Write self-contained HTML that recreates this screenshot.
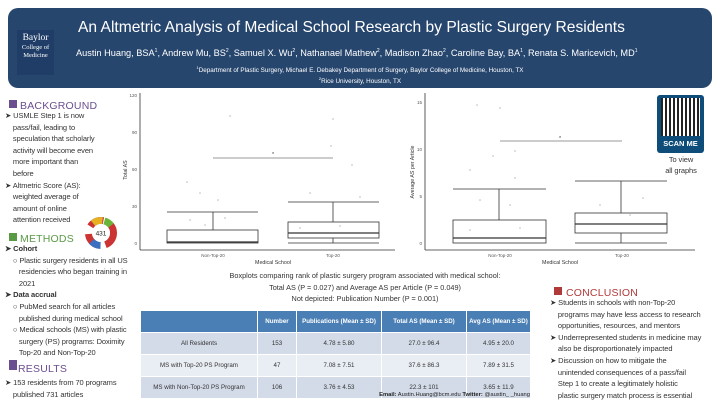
<!DOCTYPE html>
<html><head><meta charset="utf-8"><style>
body{margin:0;width:720px;height:405px;background:#fff;font-family:"Liberation Sans",sans-serif;position:relative;overflow:hidden;color:#222}
.a{position:absolute;white-space:nowrap}
.hdr{position:absolute;left:8px;top:8px;width:704px;height:80px;background:#27466e;border-radius:10px;color:#fff}
.t{font-size:7.5px;line-height:11.6px;color:#333;letter-spacing:-0.1px}
.h{font-size:10.5px;letter-spacing:.2px}
table{border-collapse:separate;border-spacing:1px;font-size:6.2px;color:#333}
td{text-align:center;height:19px}
th{background:#4a7fb5;color:#fff;height:19px;font-weight:bold}
</style></head><body>
<div class="hdr">
 <div class="a" style="left:9px;top:22px;width:37px;height:42px;background:#1f3d66;font-family:'Liberation Serif',serif;text-align:center;line-height:8px;font-size:6.5px;padding-top:3px"><span style="font-size:9.5px;line-height:11px">Baylor</span><br>College of<br>Medicine</div>
 <div class="a" style="left:70px;top:11px;font-size:15.6px">An Altmetric Analysis of Medical School Research by Plastic Surgery Residents</div>
 <div class="a" style="left:68px;top:40px;font-size:9.2px">Austin Huang, BSA<sup style="font-size:5px">1</sup>, Andrew Mu, BS<sup style="font-size:5px">2</sup>, Samuel X. Wu<sup style="font-size:5px">2</sup>, Nathanael Mathew<sup style="font-size:5px">2</sup>, Madison Zhao<sup style="font-size:5px">2</sup>, Caroline Bay, BA<sup style="font-size:5px">1</sup>, Renata S. Maricevich, MD<sup style="font-size:5px">1</sup></div>
 <div class="a" style="left:0;width:704px;text-align:center;top:57px;font-size:6.3px"><sup style="font-size:4px">1</sup>Department of Plastic Surgery, Michael E. Debakey Department of Surgery, Baylor College of Medicine, Houston, TX</div>
 <div class="a" style="left:0;width:704px;text-align:center;top:68px;font-size:6.3px"><sup style="font-size:4px">2</sup>Rice University, Houston, TX</div>
</div>

<div class="a" style="left:9px;top:100px;width:8px;height:8px;background:#6b4e8f"></div>
<div class="a h" style="left:20px;top:100px;color:#6b4e8f">BACKGROUND</div>
<div class="a t" style="left:5px;top:110px">➤ USMLE Step 1 is now<br>&nbsp;&nbsp;&nbsp;&nbsp;pass/fail, leading to<br>&nbsp;&nbsp;&nbsp;&nbsp;speculation that scholarly<br>&nbsp;&nbsp;&nbsp;&nbsp;activity will become even<br>&nbsp;&nbsp;&nbsp;&nbsp;more important than<br>&nbsp;&nbsp;&nbsp;&nbsp;before<br>➤ Altmetric Score (AS):<br>&nbsp;&nbsp;&nbsp;&nbsp;weighted average of<br>&nbsp;&nbsp;&nbsp;&nbsp;amount of online<br>&nbsp;&nbsp;&nbsp;&nbsp;attention received</div>
<svg class="a" style="left:83px;top:215px" width="36" height="36"><circle cx="18" cy="18" r="12.5" fill="none" stroke="#c33" stroke-width="7" stroke-dasharray="15 8" /><circle cx="18" cy="18" r="12.5" fill="none" stroke="#3a6fc0" stroke-width="7" stroke-dasharray="10 20" stroke-dashoffset="-20"/><circle cx="18" cy="18" r="12.5" fill="none" stroke="#e8b020" stroke-width="7" stroke-dasharray="10 70" stroke-dashoffset="-50"/><circle cx="18" cy="18" r="12.5" fill="none" stroke="#6bb43a" stroke-width="7" stroke-dasharray="8 70" stroke-dashoffset="-62"/><circle cx="18" cy="18" r="9" fill="#fff"/><text x="18" y="20.5" font-size="6.5" text-anchor="middle" fill="#222">431</text></svg>
<div class="a" style="left:9px;top:233px;width:8px;height:8px;background:#5a9a46"></div>
<div class="a h" style="left:20px;top:233px;color:#5a9a46">METHODS</div>
<div class="a t" style="left:5px;top:243px"><b>➤ Cohort</b><br>&nbsp;&nbsp;&nbsp;&nbsp;○ Plastic surgery residents in all US<br>&nbsp;&nbsp;&nbsp;&nbsp;&nbsp;&nbsp;&nbsp;residencies who began training in<br>&nbsp;&nbsp;&nbsp;&nbsp;&nbsp;&nbsp;&nbsp;2021<br><b>➤ Data accrual</b><br>&nbsp;&nbsp;&nbsp;&nbsp;○ PubMed search for all articles<br>&nbsp;&nbsp;&nbsp;&nbsp;&nbsp;&nbsp;&nbsp;published during medical school<br>&nbsp;&nbsp;&nbsp;&nbsp;○ Medical schools (MS) with plastic<br>&nbsp;&nbsp;&nbsp;&nbsp;&nbsp;&nbsp;&nbsp;surgery (PS) programs: Doximity<br>&nbsp;&nbsp;&nbsp;&nbsp;&nbsp;&nbsp;&nbsp;Top-20 and Non-Top-20</div>
<div class="a" style="left:9px;top:360px;width:8px;height:10px;background:#6b4e8f"></div>
<div class="a h" style="left:18px;top:363px;color:#6b4e8f">RESULTS</div>
<div class="a t" style="left:5px;top:377px">➤ 153 residents from 70 programs<br>&nbsp;&nbsp;&nbsp;&nbsp;published 731 articles</div>

<svg class="a" style="left:0;top:0" width="720" height="270" font-family="Liberation Sans" fill="#555">
 <g stroke="#333" stroke-width="0.8" fill="none">
  <line x1="140" y1="93" x2="140" y2="250"/><line x1="140" y1="250" x2="395" y2="250"/>
  <rect x="167" y="230" width="91" height="13"/><line x1="167" y1="242" x2="258" y2="242" stroke-width="1.2"/>
  <line x1="213" y1="230" x2="213" y2="212"/><line x1="167" y1="212" x2="258" y2="212"/>
  <rect x="288" y="222" width="91" height="16"/><line x1="288" y1="233" x2="379" y2="233" stroke-width="1.2"/>
  <line x1="333" y1="222" x2="333" y2="202"/><line x1="288" y1="202" x2="379" y2="202"/><line x1="288" y1="243" x2="379" y2="243"/><line x1="333" y1="238" x2="333" y2="243"/>
  <line x1="213" y1="158" x2="333" y2="158" stroke="#777"/>
  <line x1="425" y1="93" x2="425" y2="250"/><line x1="425" y1="250" x2="695" y2="250"/>
  <rect x="453" y="220" width="93" height="23"/><line x1="453" y1="238" x2="546" y2="238" stroke-width="1.2"/>
  <line x1="499" y1="220" x2="499" y2="189"/><line x1="453" y1="189" x2="546" y2="189"/>
  <rect x="575" y="213" width="92" height="20"/><line x1="575" y1="224" x2="667" y2="224" stroke-width="1.2"/>
  <line x1="621" y1="213" x2="621" y2="181"/><line x1="575" y1="181" x2="667" y2="181"/><line x1="575" y1="243" x2="667" y2="243"/><line x1="621" y1="233" x2="621" y2="243"/>
  <line x1="500" y1="141" x2="622" y2="141" stroke="#777"/>
 </g>
 <g fill="#bbb"><circle cx="230" cy="116" r=".8"/><circle cx="333" cy="119" r=".8"/><circle cx="331" cy="146" r=".8"/><circle cx="187" cy="182" r=".8"/><circle cx="200" cy="193" r=".8"/><circle cx="218" cy="200" r=".8"/><circle cx="352" cy="165" r=".8"/><circle cx="360" cy="197" r=".8"/><circle cx="310" cy="193" r=".8"/><circle cx="190" cy="220" r=".8"/><circle cx="205" cy="225" r=".8"/><circle cx="225" cy="218" r=".8"/><circle cx="300" cy="228" r=".8"/><circle cx="340" cy="226" r=".8"/><circle cx="477" cy="105" r=".8"/><circle cx="500" cy="108" r=".8"/><circle cx="493" cy="156" r=".8"/><circle cx="515" cy="151" r=".8"/><circle cx="470" cy="170" r=".8"/><circle cx="515" cy="178" r=".8"/><circle cx="480" cy="200" r=".8"/><circle cx="510" cy="205" r=".8"/><circle cx="600" cy="205" r=".8"/><circle cx="643" cy="198" r=".8"/><circle cx="630" cy="215" r=".8"/><circle cx="470" cy="230" r=".8"/><circle cx="520" cy="228" r=".8"/></g>
 <g font-size="4.5" text-anchor="end"><text x="137" y="97">120</text><text x="137" y="134">90</text><text x="137" y="171">60</text><text x="137" y="208">30</text><text x="137" y="245">0</text>
 <text x="422" y="104">15</text><text x="422" y="151">10</text><text x="422" y="198">5</text><text x="422" y="245">0</text></g>
 <g font-size="4.5" text-anchor="middle"><text x="213" y="257">Non-Top-20</text><text x="333" y="257">Top-20</text><text x="500" y="257">Non-Top-20</text><text x="622" y="257">Top-20</text></g>
 <g font-size="5.3" text-anchor="middle" fill="#333"><text x="273" y="264">Medical School</text><text x="560" y="264">Medical School</text>
 <text transform="translate(127,170) rotate(-90)">Total AS</text><text transform="translate(414,172) rotate(-90)">Average AS per Article</text>
 <text x="273" y="156">*</text><text x="560" y="140">*</text></g>
</svg>

<div class="a" style="left:657px;top:95px;width:47px;height:58px;background:#0e4c7a;border-radius:3px"></div>
<div class="a" style="left:661px;top:98px;width:39px;height:38px;background:#fff;background-image:repeating-linear-gradient(90deg,#222 0 2px,transparent 2px 4px),repeating-linear-gradient(0deg,#fff 0 2px,transparent 2px 5px)"></div>
<div class="a" style="left:657px;top:139px;width:47px;text-align:center;color:#fff;font-size:7.5px;font-weight:bold">SCAN ME</div>
<div class="a t" style="left:650px;top:154px;width:62px;text-align:center;line-height:11px">To view<br>all graphs</div>

<div class="a" style="left:200px;top:270px;width:330px;text-align:center;font-size:7.3px;line-height:11.5px;color:#333">Boxplots comparing rank of plastic surgery program associated with medical school:<br>Total AS (P = 0.027) and Average AS per Article (P = 0.049)<br>Not depicted: Publication Number (P = 0.001)</div>

<table class="a" style="left:140px;top:310px;width:391px">
<tr><th style="width:114px;background:#4a7fb5"></th><th style="width:36px">Number</th><th style="width:82px">Publications (Mean ± SD)</th><th style="width:82px">Total AS (Mean ± SD)</th><th>Avg AS (Mean ± SD)</th></tr>
<tr style="background:#d3dbe8"><td>All Residents</td><td>153</td><td>4.78 ± 5.80</td><td>27.0 ± 96.4</td><td>4.95 ± 20.0</td></tr>
<tr style="background:#e9edf4"><td>MS with Top-20 PS Program</td><td>47</td><td>7.08 ± 7.51</td><td>37.6 ± 86.3</td><td>7.89 ± 31.5</td></tr>
<tr style="background:#d3dbe8"><td>MS with Non-Top-20 PS Program</td><td>106</td><td>3.76 ± 4.53</td><td>22.3 ± 101</td><td>3.65 ± 11.9</td></tr>
</table>
<div class="a" style="left:300px;width:230px;text-align:right;top:392px;font-size:5.8px"><b>Email:</b> Austin.Huang@bcm.edu <b>Twitter:</b> @austin_ _huang</div>

<div class="a" style="left:554px;top:287px;width:8px;height:8px;background:#b03a3a"></div>
<div class="a h" style="left:566px;top:287px;color:#b03a3a">CONCLUSION</div>
<div class="a t" style="left:550px;top:297px">➤ Students in schools with non-Top-20<br>&nbsp;&nbsp;&nbsp;&nbsp;programs may have less access to research<br>&nbsp;&nbsp;&nbsp;&nbsp;opportunities, resources, and mentors<br>➤ Underrepresented students in medicine may<br>&nbsp;&nbsp;&nbsp;&nbsp;also be disproportionately impacted<br>➤ Discussion on how to mitigate the<br>&nbsp;&nbsp;&nbsp;&nbsp;unintended consequences of a pass/fail<br>&nbsp;&nbsp;&nbsp;&nbsp;Step 1 to create a legitimately holistic<br>&nbsp;&nbsp;&nbsp;&nbsp;plastic surgery match process is essential</div>
</body></html>
